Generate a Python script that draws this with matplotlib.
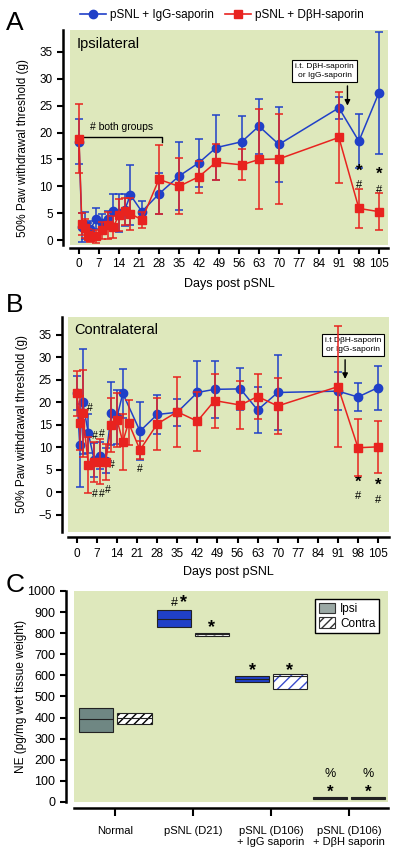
import matplotlib
matplotlib.use("Agg")
import matplotlib.pyplot as plt
from matplotlib.patches import Patch
from matplotlib.lines import Line2D

plt.rcParams['font.family'] = ['Liberation Sans', 'DejaVu Sans']

# Panel A - ipsilateral paw withdrawal threshold (g)
ipsiIggDays = [0, 1, 2, 3, 4, 6, 8, 10, 12, 14, 16, 18, 22, 28, 35, 42, 48, 57, 63, 70, 91, 98, 105]
ipsiIgg = [18.3, 2.4, 2.8, 1.6, 2.0, 4.0, 3.1, 3.9, 5.5, 5.0, 5.6, 8.4, 5.3, 8.6, 11.9, 14.4, 17.2, 18.3, 21.2, 17.8, 24.6, 18.4, 27.4]
ipsiIggErr = [4.2, 2.7, 2.5, 1.5, 1.5, 2.0, 1.8, 1.5, 3.0, 3.5, 3.0, 5.5, 2.0, 3.8, 6.3, 4.5, 6.1, 4.7, 5.1, 6.9, 2.0, 5.0, 11.4]

ipsiDbhDays = [0, 1, 2, 3, 4, 6, 8, 10, 12, 14, 16, 18, 22, 28, 35, 42, 48, 57, 63, 70, 91, 98, 105]
ipsiDbh = [18.9, 3.0, 2.2, 1.0, 0.6, 0.7, 1.8, 2.8, 2.4, 4.7, 5.4, 4.9, 3.8, 11.3, 10.0, 11.8, 14.5, 14.0, 15.0, 15.1, 19.1, 5.9, 5.3]
ipsiDbhErr = [6.5, 2.0, 1.8, 1.0, 1.0, 1.2, 1.5, 2.5, 2.0, 3.0, 2.5, 3.0, 1.5, 6.4, 5.2, 3.0, 3.3, 2.9, 9.3, 8.4, 8.5, 3.7, 3.4]

# Panel B - contralateral
contraIggDays = [0, 1, 2, 4, 6, 8, 10, 12, 14, 16, 22, 28, 35, 42, 48, 57, 63, 70, 91, 98, 105]
contraIgg = [22.0, 10.4, 20.1, 13.1, 7.2, 8.1, 7.0, 17.6, 16.8, 22.0, 13.6, 17.3, 17.8, 22.2, 22.9, 23.0, 18.3, 22.2, 22.5, 21.2, 23.3]
contraIggErr = [3.8, 9.3, 11.7, 4.4, 3.8, 3.0, 2.8, 7.0, 6.0, 5.5, 6.5, 4.4, 3.0, 7.0, 6.3, 4.6, 5.2, 8.3, 4.3, 3.1, 4.9]

contraDbhDays = [0, 1, 2, 4, 6, 8, 10, 12, 14, 16, 18, 22, 28, 35, 42, 48, 57, 63, 70, 91, 98, 105]
contraDbh = [22.0, 15.5, 17.6, 6.1, 6.7, 6.8, 6.8, 15.0, 16.1, 11.2, 15.5, 9.4, 15.2, 17.9, 15.8, 20.4, 19.4, 21.3, 19.2, 23.5, 9.9, 10.1]
contraDbhErr = [5.0, 6.0, 9.7, 6.3, 4.5, 5.0, 4.0, 6.0, 6.0, 6.2, 5.0, 2.0, 5.7, 7.8, 6.6, 6.0, 5.3, 5.1, 6.3, 13.5, 6.4, 5.8]

dayTicks = list(range(0, 106, 7))

# Panel C - NE content (pg/mg wet tissue weight)
groups = ['Normal', 'pSNL (D21)', 'pSNL (D106)\n+ IgG saporin', 'pSNL (D106)\n+ D\u03b2H saporin']
ipsiLow = [330, 830, 569, 12]
ipsiMed = [395, 866, 585, 18]
ipsiHigh = [445, 912, 598, 25]
contraLow = [370, 788, 535, 12]
contraMed = [398, 795, 598, 18]
contraHigh = [422, 802, 606, 25]

bgColor = '#dee8bc'
blue = '#2040c8'
red = '#e8231f'

ipsiFill = ['#6f8783', blue, blue, '#6a1e12']
contraFill = ['white', 'white', 'white', '#3a3a3a']
contraHatchColor = ['black', '#9a9a9a', '#3a4ccc', '#3a3a3a']
contraHatch = ['////', '////', '///', None]


def styleAxes(ax, leftOut, bottomOut):
    ax.set_facecolor(bgColor)
    ax.spines['top'].set_visible(False)
    ax.spines['right'].set_visible(False)
    ax.spines['left'].set_position(('outward', leftOut))
    ax.spines['bottom'].set_position(('outward', bottomOut))
    ax.spines['left'].set_linewidth(1.8)
    ax.spines['bottom'].set_linewidth(1.8)
    ax.tick_params(width=1.5, length=4, labelsize=8.5)


def plotTimeCourse(ax, iggDays, igg, iggErr, dbhDays, dbh, dbhErr):
    ax.errorbar(iggDays, igg, yerr=iggErr, color=blue, marker='o', ms=6,
                lw=1.1, elinewidth=1.1, capsize=3, capthick=1.1, zorder=3)
    ax.errorbar(dbhDays, dbh, yerr=dbhErr, color=red, marker='s', ms=5.5,
                lw=1.1, elinewidth=1.1, capsize=3, capthick=1.1, zorder=4)
    ax.set_xticks(dayTicks)
    ax.set_xlabel('Days post pSNL', fontsize=9)
    ax.set_ylabel('50% Paw withdrawal threshold (g)', fontsize=8.5)


def starHash(ax, x, yStar, yHash):
    ax.text(x, yStar, '*', fontsize=12, fontweight='bold', ha='center', va='center')
    ax.text(x, yHash, '#', fontsize=8, ha='center', va='center')


fig = plt.figure(figsize=(4, 8.55), dpi=100)

# ---- A ----
axA = fig.add_axes([0.175, 0.7135, 0.795, 0.2515])
styleAxes(axA, 5, 2)
plotTimeCourse(axA, ipsiIggDays, ipsiIgg, ipsiIggErr, ipsiDbhDays, ipsiDbh, ipsiDbhErr)
axA.set_xlim(-3.15, 108.2)
axA.set_ylim(-0.9, 39.1)
axA.set_yticks(range(0, 36, 5))
axA.xaxis.set_label_coords(0.5, -0.155)
axA.yaxis.set_label_coords(-0.128, 0.45)
axA.text(-1, 36.5, 'Ipsilateral', fontsize=10.5, va='center')
axA.plot([1, 1, 29, 29], [18.3, 19.2, 19.2, 18.3], color='k', lw=1)
axA.text(15, 21, '# both groups', fontsize=7.5, ha='center', va='center')
axA.text(86, 31.4, 'i.t. D\u03b2H-saporin\nor IgG-saporin', fontsize=6, ha='center', va='center',
         linespacing=1.4, bbox=dict(boxstyle='square,pad=0.35', fc='white', ec='k', lw=0.8))
axA.annotate('', xy=(94, 24.5), xytext=(94, 29.2),
             arrowprops=dict(arrowstyle='-|>', color='k', lw=1, mutation_scale=8))
starHash(axA, 98, 12.9, 10.2)
starHash(axA, 105, 12.2, 9.4)

# ---- B ----
axB = fig.add_axes([0.17, 0.3781, 0.8025, 0.2511])
styleAxes(axB, 4, 4)
plotTimeCourse(axB, contraIggDays, contraIgg, contraIggErr, contraDbhDays, contraDbh, contraDbhErr)
axB.set_xlim(-3.1, 108.8)
axB.set_ylim(-8.8, 39.0)
axB.set_yticks(range(-5, 36, 5))
axB.xaxis.set_label_coords(0.5, -0.16)
axB.yaxis.set_label_coords(-0.125, 0.5)
axB.text(-1, 36.1, 'Contralateral', fontsize=10.5, va='center')
axB.text(96.3, 32.7, 'i.t D\u03b2H-saporin\nor IgG-saporin', fontsize=6, ha='center', va='center',
         linespacing=1.4, bbox=dict(boxstyle='square,pad=0.35', fc='white', ec='k', lw=0.8))
axB.annotate('', xy=(93.5, 24.6), xytext=(93.5, 30.1),
             arrowprops=dict(arrowstyle='-|>', color='k', lw=1, mutation_scale=8))
for d, v in [(4.5, 18.7), (6.3, 12.5), (8.6, 13.0), (12.1, 6.1), (22, 5.1),
             (6.3, -0.4), (8.6, -0.4), (10.9, 0.6)]:
    axB.text(d, v, '#', fontsize=7.5, ha='center', va='center')
starHash(axB, 98, 2.3, -0.9)
starHash(axB, 105, 1.6, -1.7)

# ---- C ----
axC = fig.add_axes([0.185, 0.062, 0.785, 0.2468])
styleAxes(axC, 6, 4)
xs = range(1, len(groups) + 1)
for i, x in enumerate(xs):
    axC.bar(x - 0.245, ipsiHigh[i] - ipsiLow[i], bottom=ipsiLow[i], width=0.44,
            color=ipsiFill[i], edgecolor='#222222', lw=0.8, zorder=3)
    axC.hlines(ipsiMed[i], x - 0.465, x - 0.025, color='#222222', lw=0.8, zorder=4)
    axC.bar(x + 0.245, contraHigh[i] - contraLow[i], bottom=contraLow[i], width=0.44,
            color=contraFill[i], edgecolor=contraHatchColor[i], hatch=contraHatch[i], lw=0, zorder=3)
    axC.bar(x + 0.245, contraHigh[i] - contraLow[i], bottom=contraLow[i], width=0.44,
            fill=False, edgecolor='#222222', lw=0.8, zorder=4)
    axC.hlines(contraMed[i], x + 0.025, x + 0.465, color='#222222', lw=0.8, zorder=4)

axC.text(1.76, 942, '#', fontsize=9, ha='center', va='center')
axC.text(1.87, 945, '*', fontsize=13, fontweight='bold', ha='center', va='center')
axC.text(2.24, 825, '*', fontsize=13, fontweight='bold', ha='center', va='center')
axC.text(2.76, 625, '*', fontsize=13, fontweight='bold', ha='center', va='center')
axC.text(3.24, 625, '*', fontsize=13, fontweight='bold', ha='center', va='center')
for x in [3.755, 4.245]:
    axC.text(x, 132, '%', fontsize=9, ha='center', va='center')
    axC.text(x, 46, '*', fontsize=12, fontweight='bold', ha='center', va='center')

axC.set_xlim(0.47, 4.5)
axC.set_ylim(0, 1000)
axC.set_yticks(range(0, 1001, 100))
axC.set_xticks(list(xs))
axC.set_xticklabels(groups, fontsize=8)
axC.tick_params(axis='x', length=6, pad=7)
axC.tick_params(axis='y', labelsize=9)
axC.set_ylabel('NE (pg/mg wet tissue weight)', fontsize=8.5)
axC.yaxis.set_label_coords(-0.15, 0.5)
legendHandles = [Patch(facecolor='#9aa8a4', edgecolor='#333333', lw=0.8, label='Ipsi'),
                 Patch(facecolor='white', edgecolor='#333333', hatch='////', lw=0.8, label='Contra')]
axC.legend(handles=legendHandles, loc='upper right', fontsize=8.5, frameon=True, fancybox=False,
           edgecolor='black', framealpha=1, borderpad=0.3, handlelength=1.4, handleheight=1.0,
           handletextpad=0.4, labelspacing=0.2, bbox_to_anchor=(0.99, 0.99))

# ---- legend and panel letters ----
topHandles = [Line2D([], [], color=blue, marker='o', ms=6, lw=1.2, label='pSNL + IgG-saporin'),
              Line2D([], [], color=red, marker='s', ms=5.5, lw=1.2, label='pSNL + D\u03b2H-saporin')]
fig.legend(handles=topHandles, loc='center', bbox_to_anchor=(0.555, 0.982), ncol=2, frameon=False,
           fontsize=8.5, handlelength=2.2, columnspacing=1.0, handletextpad=0.3)
fig.text(0.015, 0.965, 'A', fontsize=19)
fig.text(0.015, 0.635, 'B', fontsize=19)
fig.text(0.015, 0.308, 'C', fontsize=19)

fig.savefig('out.png', dpi=100)
